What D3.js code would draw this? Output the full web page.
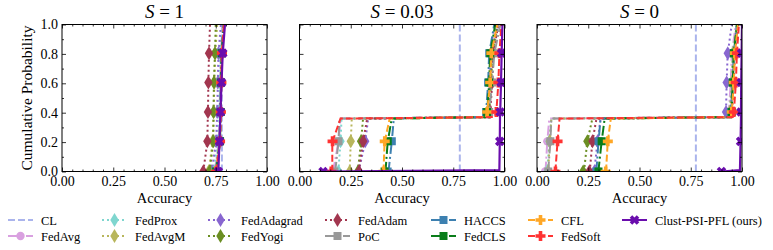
<!DOCTYPE html>
<html>
<head>
<meta charset="utf-8">
<script src="https://cdn.jsdelivr.net/npm/d3@7"></script>
<style>
  body { margin: 0; background: #fff; }
  svg text { font-family: "Liberation Serif", "Times New Roman", serif; }
</style>
</head>
<body>
<svg id="chart" width="773" height="250"></svg>
<script>
// ---- data ----
const methods = ['CL', 'FedAvg', 'FedProx', 'FedAvgM', 'FedAdagrad', 'FedYogi', 'FedAdam',
    'PoC', 'HACCS', 'FedCLS', 'CFL', 'FedSoft', 'Clust-PSI-PFL (ours)'];
const panelS = ['1', '0.03', '0'];
// cumulative probability at which the accuracies below are read
const probKnots = [0, 0.01, 0.2, 0.36, 0.37, 0.4, 0.6, 0.8, 1.0];
const markerProbs = [0, 0.205, 0.405, 0.605, 0.805];
const xTicks = [0, 0.25, 0.5, 0.75, 1];
const yTicks = [0, 0.2, 0.4, 0.6, 0.8, 1];

// accuracy per method (rows follow `methods`), one value per prob knot
const accS1 = [
    [0.78, 0.78, 0.78, 0.78, 0.78, 0.78, 0.78, 0.78, 0.78],
    [0.745, 0.746, 0.765, 0.768, 0.768, 0.769, 0.771, 0.774, 0.785],
    [0.74, 0.741, 0.76, 0.764, 0.764, 0.765, 0.768, 0.771, 0.782],
    [0.715, 0.716, 0.735, 0.739, 0.739, 0.74, 0.743, 0.747, 0.757],
    [0.73, 0.731, 0.752, 0.756, 0.756, 0.757, 0.76, 0.763, 0.775],
    [0.72, 0.721, 0.738, 0.739, 0.739, 0.739, 0.741, 0.746, 0.75],
    [0.689, 0.69, 0.709, 0.711, 0.711, 0.712, 0.714, 0.717, 0.722],
    [0.748, 0.749, 0.768, 0.771, 0.771, 0.772, 0.774, 0.777, 0.787],
    [0.75, 0.751, 0.77, 0.772, 0.772, 0.773, 0.775, 0.778, 0.788],
    [0.752, 0.753, 0.771, 0.773, 0.773, 0.774, 0.776, 0.779, 0.79],
    [0.75, 0.751, 0.77, 0.773, 0.773, 0.774, 0.777, 0.78, 0.79],
    [0.752, 0.753, 0.771, 0.774, 0.774, 0.775, 0.777, 0.78, 0.79],
    [0.763, 0.763, 0.768, 0.772, 0.772, 0.773, 0.778, 0.784, 0.795]
];
const accS003 = [
    [0.782, 0.782, 0.782, 0.782, 0.782, 0.782, 0.782, 0.782, 0.782],
    [0.16, 0.165, 0.19, 0.2, 0.91, 0.915, 0.925, 0.93, 0.955],
    [0.19, 0.19, 0.2, 0.205, 0.915, 0.92, 0.93, 0.935, 0.96],
    [0.245, 0.245, 0.25, 0.255, 0.92, 0.925, 0.935, 0.94, 0.965],
    [0.29, 0.29, 0.32, 0.335, 0.915, 0.92, 0.93, 0.935, 0.97],
    [0.285, 0.285, 0.3, 0.31, 0.92, 0.925, 0.935, 0.94, 0.965],
    [0.29, 0.29, 0.31, 0.33, 0.925, 0.93, 0.94, 0.945, 0.97],
    [0.17, 0.175, 0.19, 0.195, 0.92, 0.925, 0.94, 0.95, 0.98],
    [0.43, 0.435, 0.45, 0.46, 0.905, 0.91, 0.92, 0.925, 0.95],
    [0.415, 0.42, 0.43, 0.45, 0.91, 0.915, 0.925, 0.93, 0.955],
    [0.41, 0.41, 0.415, 0.44, 0.91, 0.915, 0.93, 0.935, 0.965],
    [0.155, 0.16, 0.16, 0.2, 0.95, 0.96, 0.97, 0.975, 0.985],
    [0.115, 0.975, 0.977, 0.978, 0.978, 0.979, 0.983, 0.986, 0.99]
];
const accS0 = [
    [0.775, 0.775, 0.775, 0.775, 0.775, 0.775, 0.775, 0.775, 0.775],
    [0.04, 0.042, 0.05, 0.06, 0.93, 0.935, 0.945, 0.95, 0.97],
    [0.05, 0.05, 0.06, 0.07, 0.935, 0.94, 0.95, 0.955, 0.975],
    [0.055, 0.055, 0.062, 0.07, 0.935, 0.94, 0.95, 0.955, 0.975],
    [0.28, 0.28, 0.295, 0.31, 0.92, 0.922, 0.925, 0.93, 0.95],
    [0.225, 0.23, 0.245, 0.27, 0.94, 0.945, 0.955, 0.96, 0.98],
    [0.255, 0.258, 0.27, 0.29, 0.945, 0.95, 0.96, 0.965, 0.98],
    [0.055, 0.055, 0.065, 0.07, 0.94, 0.945, 0.955, 0.96, 0.98],
    [0.29, 0.29, 0.3, 0.31, 0.94, 0.945, 0.955, 0.96, 0.975],
    [0.3, 0.3, 0.315, 0.33, 0.945, 0.95, 0.955, 0.96, 0.975],
    [0.335, 0.337, 0.345, 0.36, 0.945, 0.95, 0.96, 0.965, 0.98],
    [0.09, 0.09, 0.1, 0.11, 0.955, 0.96, 0.97, 0.975, 0.985],
    [0.9, 0.99, 0.993, 0.995, 0.995, 0.995, 0.996, 0.998, 1.0]
];
const panelAcc = [accS1, accS003, accS0];

// ---- styles ----
const colors = ['#aab4ec', '#d9a0e0', '#7fd6cf', '#b8b65c', '#8866d0', '#6b8e23', '#a2364f',
    '#999999', '#3d80b0', '#0a7d1a', '#ffa726', '#ff3333', '#6a0dad'];
const dashes = ['7,3', '10,3,2,3', '2,3', '2,3', '2,3', '2,3', '2,3',
    '10,3,2,3', '10,3,2,3', '10,3,2,3', '7,3', '7,3', null];
const markerType = [null, 'circle', 'diamond', 'diamond', 'diamond', 'diamond', 'diamond',
    'square', 'square', 'square', 'plus', 'plus', 'x'];
const FONT = '"Liberation Serif", "Times New Roman", serif';

const panelLeft = [62, 299.5, 537], panelW = 205;
const plotTop = 24.5, plotBottom = 171.5;

const svg = d3.select('#chart');
const x = d3.scaleLinear().domain([0, 1]);
const y = d3.scaleLinear().domain([0, 1]).range([plotBottom, plotTop]);

function markerPath(type) {
    if (type === 'circle') return d3.symbol().type(d3.symbolCircle).size(55)();
    if (type === 'square') return d3.symbol().type(d3.symbolSquare).size(64)();
    if (type === 'diamond') return 'M0,-7L4.2,0L0,7L-4.2,0Z';
    const a = 1.8, b = 5;
    return `M${-a},${-b}L${a},${-b}L${a},${-a}L${b},${-a}L${b},${a}L${a},${a}L${a},${b}L${-a},${b}L${-a},${a}L${-b},${a}L${-b},${-a}L${-a},${-a}Z`;
}

panelAcc.forEach((rows, pi) => {
    const left = panelLeft[pi];
    const xs = x.copy().range([left, left + panelW]);
    const g = svg.append('g').attr('class', 'panel');

    g.append('clipPath').attr('id', `clip${pi}`)
        .append('rect').attr('x', left).attr('y', plotTop).attr('width', panelW).attr('height', plotBottom - plotTop);

    const plot = g.append('g').attr('clip-path', `url(#clip${pi})`);
    const line = d3.line().x(d => xs(d[0])).y(d => y(d[1]));

    rows.forEach((accRow, mi) => {
        const pts = probKnots.map((p, k) => [accRow[k], p]);
        const sg = plot.append('g');
        sg.append('path')
            .attr('d', line(pts))
            .attr('fill', 'none')
            .attr('stroke', colors[mi])
            .attr('stroke-width', mi === 12 ? 2.2 : 2)
            .attr('stroke-dasharray', dashes[mi]);
        if (markerType[mi]) {
            const interp = d3.scaleLinear().domain(probKnots).range(accRow);
            markerProbs.forEach(p => {
                sg.append('path')
                    .attr('d', markerPath(markerType[mi]))
                    .attr('transform', `translate(${xs(interp(p))},${y(p)})` + (markerType[mi] === 'x' ? ' rotate(45)' : ''))
                    .attr('fill', colors[mi]);
            });
        }
    });

    // frame
    g.append('rect')
        .attr('x', left).attr('y', plotTop).attr('width', panelW).attr('height', plotBottom - plotTop)
        .attr('fill', 'none').attr('stroke', '#000').attr('stroke-width', 1);

    const minorX = d3.range(0, 1.0001, 0.05).filter(v => xTicks.every(t => Math.abs(t - v) > 1e-6));
    const minorY = d3.range(0, 1.0001, 0.1).filter(v => yTicks.every(t => Math.abs(t - v) > 1e-6));

    const addAxis = (axis, tr, labels) => {
        const a = g.append('g').attr('transform', tr).call(axis);
        a.attr('font-family', FONT).attr('font-size', 14);
        a.select('.domain').remove();
        a.selectAll('line').attr('stroke', '#000').attr('stroke-width', 0.8);
        a.selectAll('text').attr('fill', '#000');
        if (!labels) a.selectAll('text').remove();
        return a;
    };
    addAxis(d3.axisBottom(xs).tickValues(xTicks).tickSize(-4).tickPadding(5).tickFormat(d3.format('.2f')), `translate(0,${plotBottom})`, true);
    addAxis(d3.axisBottom(xs).tickValues(minorX).tickSize(-2), `translate(0,${plotBottom})`, false);
    addAxis(d3.axisTop(xs).tickValues(xTicks).tickSize(-4), `translate(0,${plotTop})`, false);
    addAxis(d3.axisTop(xs).tickValues(minorX).tickSize(-2), `translate(0,${plotTop})`, false);
    addAxis(d3.axisLeft(y).tickValues(yTicks).tickSize(-4).tickPadding(4).tickFormat(d3.format('.1f')), `translate(${left},0)`, pi === 0);
    addAxis(d3.axisLeft(y).tickValues(minorY).tickSize(-2), `translate(${left},0)`, false);
    addAxis(d3.axisRight(y).tickValues(yTicks).tickSize(-4), `translate(${left + panelW},0)`, false);
    addAxis(d3.axisRight(y).tickValues(minorY).tickSize(-2), `translate(${left + panelW},0)`, false);

    // title
    const title = g.append('text')
        .attr('x', left + panelW / 2).attr('y', 18)
        .attr('text-anchor', 'middle')
        .attr('font-family', FONT)
        .style('font-size', '19px');
    title.append('tspan').style('font-style', 'italic').text('S');
    title.append('tspan').text(` = ${panelS[pi]}`);

    g.append('text')
        .attr('x', left + panelW / 2).attr('y', 203)
        .attr('text-anchor', 'middle')
        .attr('font-family', FONT)
        .style('font-size', '14.5px')
        .text('Accuracy');
});

svg.append('text')
    .attr('transform', `translate(32,${(plotTop + plotBottom) / 2}) rotate(-90)`)
    .attr('text-anchor', 'middle')
    .attr('font-family', FONT)
    .style('font-size', '15.5px')
    .text('Cumulative Probability');

// legend, 7 columns, filled column by column
const legendColX = [8, 102, 208, 325, 431, 528, 622];
const legendRowY = [220, 236];
methods.forEach((name, mi) => {
    const col = Math.floor(mi / 2), row = mi % 2;
    const lg = svg.append('g').attr('transform', `translate(${legendColX[col]},${legendRowY[row]})`);
    lg.append('line')
        .attr('x1', 0).attr('x2', 25).attr('y1', 0).attr('y2', 0)
        .attr('stroke', colors[mi]).attr('stroke-width', 2)
        .attr('stroke-dasharray', dashes[mi]);
    if (markerType[mi]) {
        lg.append('path')
            .attr('d', markerPath(markerType[mi]))
            .attr('transform', 'translate(12.5,0)' + (markerType[mi] === 'x' ? ' rotate(45)' : ''))
            .attr('fill', colors[mi]);
    }
    lg.append('text')
        .attr('x', 33).attr('y', 4.5)
        .attr('font-family', FONT)
        .style('font-size', '12.5px')
        .text(name);
});
</script>
</body>
</html>
